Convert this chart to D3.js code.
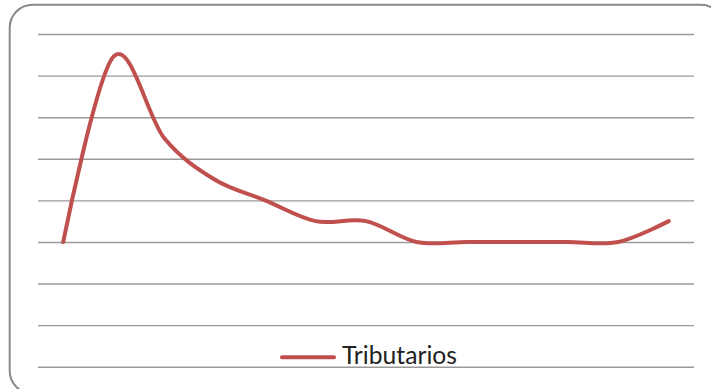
<!DOCTYPE html>
<html>
<head>
<meta charset="utf-8">
<script src="https://cdn.jsdelivr.net/npm/d3@7"></script>
<style>
  html, body { margin: 0; padding: 0; background: #fff; overflow: hidden; }
  svg { display: block; }
</style>
</head>
<body>
<svg id="chart" width="711" height="389"></svg>
<script>
// ---- data ----
const categories = ["1","2","3","4","5","6","7","8","9","10","11","12","13"];
const tributarios = [15, 37.3, 27.5, 22.5, 20, 17.5, 17.5, 15, 15, 15, 15, 15, 17.5];
const yTicks = [0, 5, 10, 15, 20, 25, 30, 35, 40];
const seriesName = "Tributarios";

// ---- layout ----
const W = 711, H = 389;
const plot = { left: 38, right: 694, top: 34, bottom: 366.7 };

const svg = d3.select("#chart");

// outer rounded frame
svg.append("rect")
  .attr("x", 9.7).attr("y", 4.7)
  .attr("width", 714).attr("height", 389)
  .attr("rx", 23).attr("ry", 23)
  .attr("fill", "#fff")
  .attr("stroke", "#888")
  .attr("stroke-width", 2);

const x = d3.scalePoint().domain(categories).range([plot.left, plot.right]).padding(0.5);
const y = d3.scaleLinear().domain([0, 40]).range([plot.bottom, plot.top]);

// gridlines
const yAxis = d3.axisLeft(y).tickValues(yTicks).tickSize(-(plot.right - plot.left)).tickFormat("");
const g = svg.append("g").attr("transform", `translate(${plot.left},0)`).call(yAxis);
g.select(".domain").remove();
g.selectAll(".tick line").attr("stroke", "#9a9a9a").attr("stroke-width", 1.4);

// series line
const line = d3.line()
  .x((d, i) => x(categories[i]))
  .y(d => y(d))
  .curve(d3.curveCatmullRom.alpha(0));

svg.append("path")
  .datum(tributarios)
  .attr("d", line)
  .attr("fill", "none")
  .attr("stroke", "#C0504D")
  .attr("stroke-width", 4)
  .attr("stroke-linecap", "round")
  .attr("stroke-linejoin", "round");

// legend
const lg = svg.append("g");
lg.append("line")
  .attr("x1", 282).attr("x2", 334).attr("y1", 357.3).attr("y2", 357.3)
  .attr("stroke", "#C0504D").attr("stroke-width", 4).attr("stroke-linecap", "round");
lg.append("text")
  .attr("x", 342).attr("y", 364.3)
  .attr("font-family", "Lato, 'Open Sans', sans-serif")
  .attr("font-size", 24.5)
  .attr("fill", "#222")
  .attr("textLength", 115)
  .attr("lengthAdjust", "spacingAndGlyphs")
  .text(seriesName);
</script>
</body>
</html>
